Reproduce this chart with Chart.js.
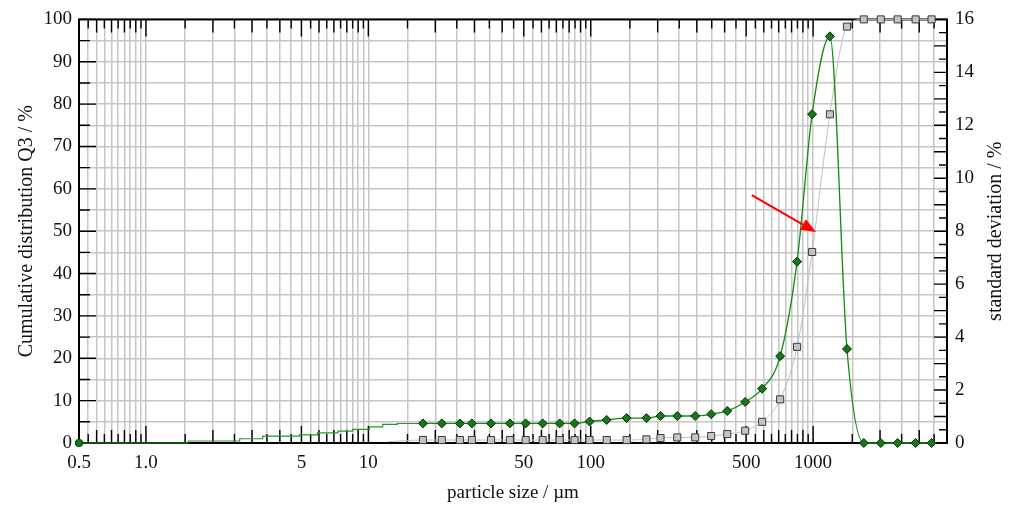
<!DOCTYPE html>
<html>
<head>
<meta charset="utf-8">
<script src="https://cdn.jsdelivr.net/npm/chart.js@4"></script>
<style>
  html, body { margin: 0; padding: 0; background: #fff; }
</style>
</head>
<body>
<canvas id="chart" width="1017" height="508"></canvas>
<script>
// sieve classes (µm) shared by both marker series
const sizes = [17.6, 21.4, 25.8, 29.2, 35.6, 43.3, 51, 60.8, 72.5, 84.6,
               98.8, 118, 145, 178, 206, 245, 295, 348, 411, 495,
               590, 711, 847, 990, 1190, 1420, 1690, 2015, 2400, 2890, 3410];

// cumulative distribution Q3 (%), left axis
const cumulative = [0.7, 0.7, 0.7, 0.7, 0.7, 0.7, 0.7, 0.7, 0.7, 0.7,
                    0.7, 0.7, 0.7, 0.86, 1.17, 1.32, 1.32, 1.65, 2.1, 2.9,
                    5.0, 10.3, 22.7, 45.1, 77.6, 98.3, 100, 100, 100, 100, 100];
// where the grey line starts, left of the first class
const cumulativeLeadSize = [12.2];
const cumulativeLead = [0.3];

// standard deviation (%), right axis
const deviation = [0.74, 0.74, 0.74, 0.74, 0.74, 0.74, 0.74, 0.74, 0.74, 0.74,
                   0.81, 0.87, 0.94, 0.94, 1.02, 1.02, 1.02, 1.09, 1.21, 1.55,
                   2.05, 3.28, 6.85, 12.42, 15.36, 3.55, 0, 0, 0, 0, 0];
// fine stepped part of the green curve below the first class
const fineSizes = [0.5, 1.55, 2.64, 3.35, 4.9, 5.9, 7.3, 8.5, 10.1, 11.6, 13.5, 17.6];
const fineDeviation = [0, 0.075, 0.16, 0.256, 0.304, 0.384, 0.448, 0.512, 0.608, 0.704, 0.736, 0.74];

// tick labels
const xLabelValues = [0.5, 1, 5, 10, 50, 100, 500, 1000];
const xLabelTexts = ['0.5', '1.0', '5', '10', '50', '100', '500', '1000'];
const xMin = 0.5, xMax = 4000;

// red arrow, in (µm, %) coordinates
const arrowTail = [530, 58.5];
const arrowTip = [1030, 49.8];

const FONT = 'Liberation Serif';

// grid every half step of each decade
const xGrid = [];
[0.1, 1, 10, 100, 1000].forEach(d => {
  for (let m = 1; m < 10; m += 0.5) {
    const v = +(m * d).toPrecision(4);
    if (v >= xMin && v <= xMax) xGrid.push(v);
  }
});

function xTickLength(v) {
  const d = Math.pow(10, Math.floor(Math.log10(v) + 1e-9));
  const m = Math.round(v / d * 100) / 100;
  if (m === 1 || m === 5) return 17;
  if (Number.isInteger(m)) return 13;
  return 9;
}

function pts(xs, ys) {
  return xs.map((x, i) => ({x: x, y: ys[i]}));
}

const frameTicks = {
  id: 'frameTicks',
  beforeDatasetsDraw(chart) {
    const {ctx, chartArea: a, scales} = chart;
    ctx.save();
    ctx.strokeStyle = '#000';
    ctx.lineWidth = 1.4;
    ctx.beginPath();
    scales.x.ticks.forEach(t => {
      const px = scales.x.getPixelForValue(t.value);
      const len = xTickLength(t.value);
      ctx.moveTo(px, a.top); ctx.lineTo(px, a.top + len);
      ctx.moveTo(px, a.bottom); ctx.lineTo(px, a.bottom - len);
    });
    scales.y.ticks.forEach(t => {
      const py = scales.y.getPixelForValue(t.value);
      const len = t.value % 10 === 0 ? 17 : 11;
      ctx.moveTo(a.left, py); ctx.lineTo(a.left + len, py);
    });
    scales.y1.ticks.forEach(t => {
      const py = scales.y1.getPixelForValue(t.value);
      const len = Number.isInteger(t.value) ? 13 : 8;
      ctx.moveTo(a.right, py); ctx.lineTo(a.right - len, py);
    });
    ctx.stroke();
    ctx.lineWidth = 2;
    ctx.strokeRect(a.left, a.top, a.right - a.left, a.bottom - a.top);
    ctx.restore();
  },
  afterDatasetsDraw(chart) {
    const {ctx, scales} = chart;
    const x0 = scales.x.getPixelForValue(arrowTail[0]);
    const y0 = scales.y.getPixelForValue(arrowTail[1]);
    const x1 = scales.x.getPixelForValue(arrowTip[0]);
    const y1 = scales.y.getPixelForValue(arrowTip[1]);
    const ang = Math.atan2(y1 - y0, x1 - x0);
    const head = 15, half = 6;
    ctx.save();
    ctx.strokeStyle = '#ff0000';
    ctx.fillStyle = '#ff0000';
    ctx.lineWidth = 2;
    ctx.beginPath();
    ctx.moveTo(x0, y0);
    ctx.lineTo(x1 - head * Math.cos(ang), y1 - head * Math.sin(ang));
    ctx.stroke();
    ctx.beginPath();
    ctx.moveTo(x1, y1);
    ctx.lineTo(x1 - head * Math.cos(ang) + half * Math.sin(ang), y1 - head * Math.sin(ang) - half * Math.cos(ang));
    ctx.lineTo(x1 - head * Math.cos(ang) - half * Math.sin(ang), y1 - head * Math.sin(ang) + half * Math.cos(ang));
    ctx.closePath();
    ctx.fill();
    ctx.restore();
  },
  afterDraw(chart) {
    // right title reads bottom to top, like the left one
    const {ctx, chartArea: a} = chart;
    ctx.save();
    ctx.translate(996, (a.top + a.bottom) / 2);
    ctx.rotate(-Math.PI / 2);
    ctx.font = '20px "' + FONT + '"';
    ctx.fillStyle = '#111';
    ctx.textAlign = 'center';
    ctx.textBaseline = 'middle';
    ctx.fillText('standard deviation / %', 0, 0);
    ctx.restore();
  }
};

new Chart(document.getElementById('chart'), {
  type: 'line',
  data: {
    datasets: [
      {
        data: pts(sizes, deviation),
        yAxisID: 'y1',
        borderColor: '#158a15',
        borderWidth: 1.3,
        cubicInterpolationMode: 'monotone',
        pointStyle: 'rectRot',
        pointRadius: 4.5,
        pointBackgroundColor: '#157a15',
        pointBorderColor: '#0a2a0a',
        pointBorderWidth: 1,
        clip: false,
        order: 1
      },
      {
        data: pts(fineSizes, fineDeviation),
        yAxisID: 'y1',
        borderColor: '#2a962a',
        borderWidth: 1.2,
        stepped: 'before',
        pointRadius: ctx => ctx.dataIndex === 0 ? 3.5 : 0,
        pointBackgroundColor: '#157a15',
        pointBorderColor: '#0a4a0a',
        clip: false,
        order: 2
      },
      {
        data: pts(cumulativeLeadSize, cumulativeLead).concat(pts(sizes, cumulative)),
        yAxisID: 'y',
        borderColor: '#c0c0c0',
        borderWidth: 1,
        cubicInterpolationMode: 'monotone',
        pointStyle: 'rect',
        pointRadius: ctx => ctx.dataIndex === 0 ? 0 : 5,
        pointBackgroundColor: '#c4c4c4',
        pointBorderColor: '#3a3a3a',
        pointBorderWidth: 1,
        clip: false,
        order: 3
      }
    ]
  },
  options: {
    responsive: false,
    animation: false,
    layout: { padding: { top: 15, left: 0, right: 0, bottom: 0 } },
    plugins: { legend: { display: false }, tooltip: { enabled: false } },
    scales: {
      x: {
        type: 'logarithmic',
        min: xMin,
        max: xMax,
        afterBuildTicks: scale => { scale.ticks = xGrid.map(v => ({value: v})); },
        afterFit: scale => { scale.height = 65; },
        grid: { color: '#c6c6c6', lineWidth: 1.5, drawTicks: false },
        border: { display: false },
        ticks: {
          autoSkip: false,
          maxRotation: 0,
          padding: 9,
          color: '#111',
          font: { family: FONT, size: 19 },
          callback: value => {
            const i = xLabelValues.indexOf(value);
            return i >= 0 ? xLabelTexts[i] : '';
          }
        },
        title: {
          display: true,
          text: 'particle size / µm',
          color: '#111',
          font: { family: FONT, size: 19 },
          padding: { top: 4, bottom: 4 }
        }
      },
      y: {
        position: 'left',
        min: 0,
        max: 100,
        afterFit: scale => { scale.width = 79; },
        grid: { color: '#c6c6c6', lineWidth: 1.5, drawTicks: false },
        border: { display: false },
        ticks: {
          stepSize: 5,
          autoSkip: false,
          padding: 7,
          color: '#111',
          font: { family: FONT, size: 19 },
          callback: value => value % 10 === 0 ? value : ''
        },
        title: {
          display: true,
          text: 'Cumulative distribution Q3 / %',
          color: '#111',
          font: { family: FONT, size: 20 },
          padding: { top: 15, bottom: 0 }
        }
      },
      y1: {
        position: 'right',
        min: 0,
        max: 16,
        afterFit: scale => { scale.width = 70; },
        grid: { drawOnChartArea: false, drawTicks: false },
        border: { display: false },
        ticks: {
          stepSize: 0.5,
          autoSkip: false,
          padding: 8,
          color: '#111',
          font: { family: FONT, size: 19 },
          callback: value => value % 2 === 0 ? value : ''
        }
      }
    }
  },
  plugins: [frameTicks]
});
</script>
</body>
</html>
